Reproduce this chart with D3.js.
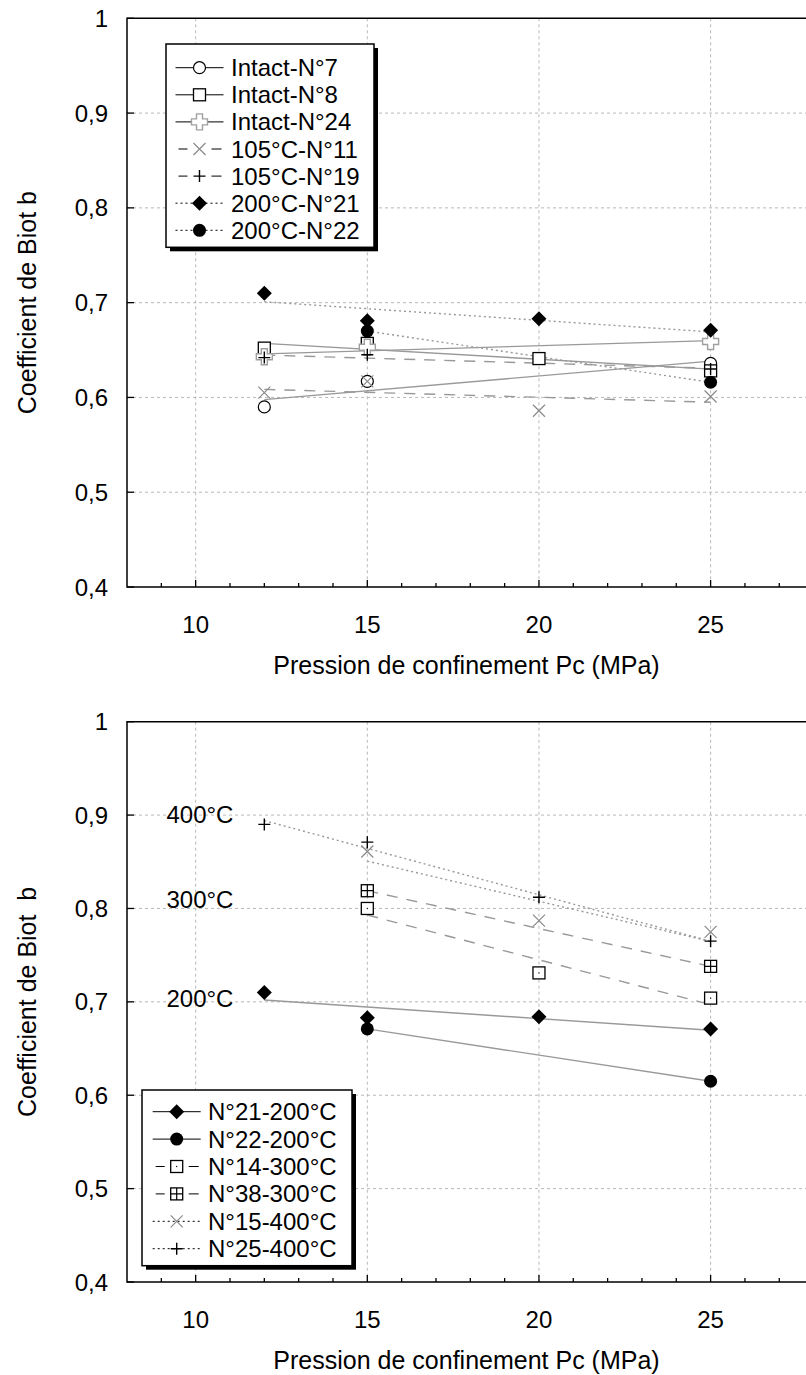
<!DOCTYPE html>
<html><head><meta charset="utf-8">
<script src="https://cdn.jsdelivr.net/npm/d3@7"></script>
<style>
body{margin:0;background:#fff}
text{font-family:"Liberation Sans",Arial,sans-serif;fill:#000}
</style>
</head><body>
<svg id="c" width="806" height="1375"></svg>
<script>
// ---------- axes data ----------
const xDomain=[8,28];
const yDomain=[0.4,1];
const xMajorTicks=[10,15,20,25];
const xMinorTicks=[9,11,12,13,14,16,17,18,19,21,22,23,24,26,27];
const yTicks=[0.4,0.5,0.6,0.7,0.8,0.9,1];
const yTickLabels=["0,4","0,5","0,6","0,7","0,8","0,9","1"];
const xTitle="Pression de confinement Pc (MPa)";
const yTitleTop="Coefficient de Biot b";
const yTitleBottom="Coefficient de Biot  b";

// ---------- top chart series ----------
const topNames=["Intact-N°7","Intact-N°8","Intact-N°24","105°C-N°11","105°C-N°19","200°C-N°21","200°C-N°22"];
const pcIntact7=[12,15,25],      bIntact7=[0.590,0.617,0.636];
const pcIntact8=[12,15,20,25],   bIntact8=[0.652,0.657,0.641,0.628];
const pcIntact24=[12,15,25],     bIntact24=[0.643,0.653,0.659];
const pc105N11=[12,15,20,25],    b105N11=[0.605,0.617,0.586,0.601];
const pc105N19=[12,15,25],       b105N19=[0.642,0.645,0.630];
const pc200N21=[12,15,20,25],    b200N21=[0.710,0.681,0.683,0.671];
const pc200N22=[15,25],          b200N22=[0.670,0.616];

// ---------- bottom chart series ----------
const bottomNames=["N°21-200°C","N°22-200°C","N°14-300°C","N°38-300°C","N°15-400°C","N°25-400°C"];
const pcN21=[12,15,20,25], bN21=[0.710,0.683,0.684,0.671];
const pcN22=[15,25],       bN22=[0.671,0.615];
const pcN14=[15,20,25],    bN14=[0.800,0.731,0.704];
const pcN38=[15,25],       bN38=[0.819,0.738];
const pcN15=[15,20,25],    bN15=[0.861,0.787,0.775];
const pcN25=[12,15,20,25], bN25=[0.890,0.871,0.812,0.765];

const annotLabels=["400°C","300°C","200°C"];
const annotB=[0.901,0.810,0.704];
const annotPc=9.15;

// ---------- styles ----------
const topStyles=[
 {m:"circleOpen",dash:null},{m:"square",dash:null},{m:"crossOutline",dash:null},
 {m:"x",dash:"dashed"},{m:"plus",dash:"dashed"},{m:"diamond",dash:"dotted"},{m:"circleFilled",dash:"dotted"}];
const bottomStyles=[
 {m:"diamond",dash:null},{m:"circleFilled",dash:null},{m:"squareDot",dash:"dashed"},
 {m:"squareGrid",dash:"dashed"},{m:"x",dash:"dotted"},{m:"plus",dash:"dotted"}];
const dashArr={dashed:"11,9",dotted:"2,3"};

const topSeries=[[pcIntact7,bIntact7],[pcIntact8,bIntact8],[pcIntact24,bIntact24],[pc105N11,b105N11],[pc105N19,b105N19],[pc200N21,b200N21],[pc200N22,b200N22]]
 .map((s,i)=>({name:topNames[i],pts:s[0].map((x,j)=>({x,y:s[1][j]})),...topStyles[i]}));
const bottomSeries=[[pcN21,bN21],[pcN22,bN22],[pcN14,bN14],[pcN38,bN38],[pcN15,bN15],[pcN25,bN25]]
 .map((s,i)=>({name:bottomNames[i],pts:s[0].map((x,j)=>({x,y:s[1][j]})),...bottomStyles[i]}));

const svg=d3.select("#c");

function marker(g,type,cx,cy){
  const s=g.append("g").attr("transform",`translate(${cx},${cy})`);
  if(type==="circleOpen") s.append("circle").attr("r",6).attr("fill","#fff").attr("stroke","#000").attr("stroke-width",1.2);
  else if(type==="circleFilled") s.append("circle").attr("r",6.5).attr("fill","#000");
  else if(type==="square") s.append("rect").attr("x",-6).attr("y",-6).attr("width",12).attr("height",12).attr("fill","#fff").attr("stroke","#000").attr("stroke-width",1.3);
  else if(type==="squareDot"){ s.append("rect").attr("x",-6).attr("y",-6).attr("width",12).attr("height",12).attr("fill","#fff").attr("stroke","#000").attr("stroke-width",1.3);
     s.append("rect").attr("x",-0.6).attr("y",-0.6).attr("width",1.2).attr("height",1.2).attr("fill","#000");}
  else if(type==="squareGrid"){ s.append("rect").attr("x",-6).attr("y",-6).attr("width",12).attr("height",12).attr("fill","#fff").attr("stroke","#000").attr("stroke-width",1.3);
     s.append("path").attr("d","M0,-6V6M-6,0H6").attr("stroke","#000").attr("stroke-width",1.2);}
  else if(type==="diamond") s.append("path").attr("d","M0,-7.5L7.5,0L0,7.5L-7.5,0Z").attr("fill","#000");
  else if(type==="plus") s.append("path").attr("d","M-6,0H6M0,-6V6").attr("stroke","#000").attr("stroke-width",1.4);
  else if(type==="x") s.append("path").attr("d","M-6,-6L6,6M-6,6L6,-6").attr("stroke","#8a8a8a").attr("stroke-width",1.2);
  else if(type==="crossOutline") s.append("path").attr("d","M-3,-8H3V-3H8V3H3V8H-3V3H-8V-3H-3Z").attr("fill","#fff").attr("stroke","#a0a0a0").attr("stroke-width",1.4);
}

function linreg(pts){
  const mx=d3.mean(pts,d=>d.x), my=d3.mean(pts,d=>d.y);
  const sxy=d3.sum(pts,d=>(d.x-mx)*(d.y-my)), sxx=d3.sum(pts,d=>(d.x-mx)*(d.x-mx));
  const k=sxy/sxx; return x=>my+k*(x-mx);
}

function drawChart(cfg){
  const g=svg.append("g");
  const x=d3.scaleLinear().domain(xDomain).range([127,127+20*34.33]);
  const y=d3.scaleLinear().domain(yDomain).range([cfg.yBottom,cfg.yTop]);
  const L=127,R=806;
  g.selectAll(".hg").data(yTicks.filter(t=>t>0.45&&t<0.95)).enter().append("line")
   .attr("x1",L).attr("x2",R).attr("y1",d=>y(d)).attr("y2",d=>y(d))
   .attr("stroke","#b8b8b8").attr("stroke-dasharray","3,3");
  g.selectAll(".vg").data(xMajorTicks).enter().append("line")
   .attr("x1",d=>x(d)).attr("x2",d=>x(d)).attr("y1",cfg.yTop).attr("y2",cfg.yBottom)
   .attr("stroke","#b8b8b8").attr("stroke-dasharray","3,3");
  g.append("path").attr("d",`M${R},${cfg.yTop}H${L}V${cfg.yBottom}H${R}`).attr("fill","none").attr("stroke","#000").attr("stroke-width",1.5);
  g.selectAll(".xt").data(xMajorTicks).enter().append("line").attr("x1",d=>x(d)).attr("x2",d=>x(d))
   .attr("y1",cfg.yBottom).attr("y2",cfg.yBottom-7).attr("stroke","#000").attr("stroke-width",1.3);
  g.selectAll(".xm").data(xMinorTicks).enter().append("line").attr("x1",d=>x(d)).attr("x2",d=>x(d))
   .attr("y1",cfg.yBottom).attr("y2",cfg.yBottom-4).attr("stroke","#000").attr("stroke-width",1.3);
  g.selectAll(".yt").data(yTicks).enter().append("line").attr("x1",L).attr("x2",L+7)
   .attr("y1",d=>y(d)).attr("y2",d=>y(d)).attr("stroke","#000").attr("stroke-width",1.3);
  g.selectAll(".xl").data(xMajorTicks).enter().append("text").attr("x",d=>x(d)).attr("y",cfg.yBottom+46)
   .attr("text-anchor","middle").attr("font-size",24).text(d=>d);
  g.selectAll(".yl").data(yTicks).enter().append("text").attr("x",108).attr("y",d=>y(d)+8.5)
   .attr("text-anchor","end").attr("font-size",24).text((d,i)=>yTickLabels[i]);
  g.append("text").attr("x",(L+R)/2).attr("y",cfg.yBottom+87).attr("text-anchor","middle").attr("font-size",25).text(xTitle);
  g.append("text").attr("transform",`translate(36,${(cfg.yTop+cfg.yBottom)/2}) rotate(-90)`)
   .attr("text-anchor","middle").attr("font-size",25).style("white-space","pre").text(cfg.yTitle);
  cfg.series.forEach(s=>{
    const f=linreg(s.pts); const x0=d3.min(s.pts,d=>d.x), x1=d3.max(s.pts,d=>d.x);
    g.append("line").attr("x1",x(x0)).attr("y1",y(f(x0))).attr("x2",x(x1)).attr("y2",y(f(x1)))
     .attr("stroke","#999").attr("stroke-width",1.4).attr("stroke-dasharray",s.dash?dashArr[s.dash]:null);
  });
  cfg.series.forEach(s=>s.pts.forEach(p=>marker(g,s.m,x(p.x),y(p.y))));
  if(cfg.annot){
    annotLabels.forEach((t,i)=>g.append("text").attr("x",x(annotPc)).attr("y",y(annotB[i])+8.5).attr("font-size",24).text(t));
  }
  const lg=cfg.legend, n=cfg.series.length;
  const bh=lg.rowStart-lg.top+(n-1)*lg.rowH+lg.padB;
  g.append("rect").attr("x",lg.left+4).attr("y",lg.top+4).attr("width",lg.w).attr("height",bh).attr("fill","#000");
  g.append("rect").attr("x",lg.left).attr("y",lg.top).attr("width",lg.w).attr("height",bh).attr("fill","#fff").attr("stroke","#000").attr("stroke-width",1.5);
  cfg.series.forEach((s,i)=>{
    const cy=lg.rowStart+i*lg.rowH;
    if(s.dash==="dashed"){
      g.append("line").attr("x1",lg.mx-12).attr("x2",lg.mx-21).attr("y1",cy).attr("y2",cy).attr("stroke","#000");
      g.append("line").attr("x1",lg.mx+12).attr("x2",lg.mx+22).attr("y1",cy).attr("y2",cy).attr("stroke","#000");
    } else {
      g.append("line").attr("x1",lg.mx-lg.half).attr("x2",lg.mx+lg.half).attr("y1",cy).attr("y2",cy)
       .attr("stroke","#000").attr("stroke-width",1).attr("stroke-dasharray",s.dash==="dotted"?"2,3":null);
    }
    marker(g,s.m,lg.mx,cy);
    g.append("text").attr("x",lg.tx).attr("y",cy+8.5).attr("font-size",24).text(s.name);
  });
}

drawChart({yTop:18.3,yBottom:587,series:topSeries,yTitle:yTitleTop,
  legend:{left:166,top:44,w:208,rowStart:67.7,rowH:27.1,padB:17,mx:199.5,half:24,tx:231}});
drawChart({yTop:721.7,yBottom:1282,series:bottomSeries,yTitle:yTitleBottom,annot:true,
  legend:{left:142,top:1090,w:210,rowStart:1111.7,rowH:27.4,padB:17,mx:176.7,half:24,tx:208}});
</script>
</body></html>
